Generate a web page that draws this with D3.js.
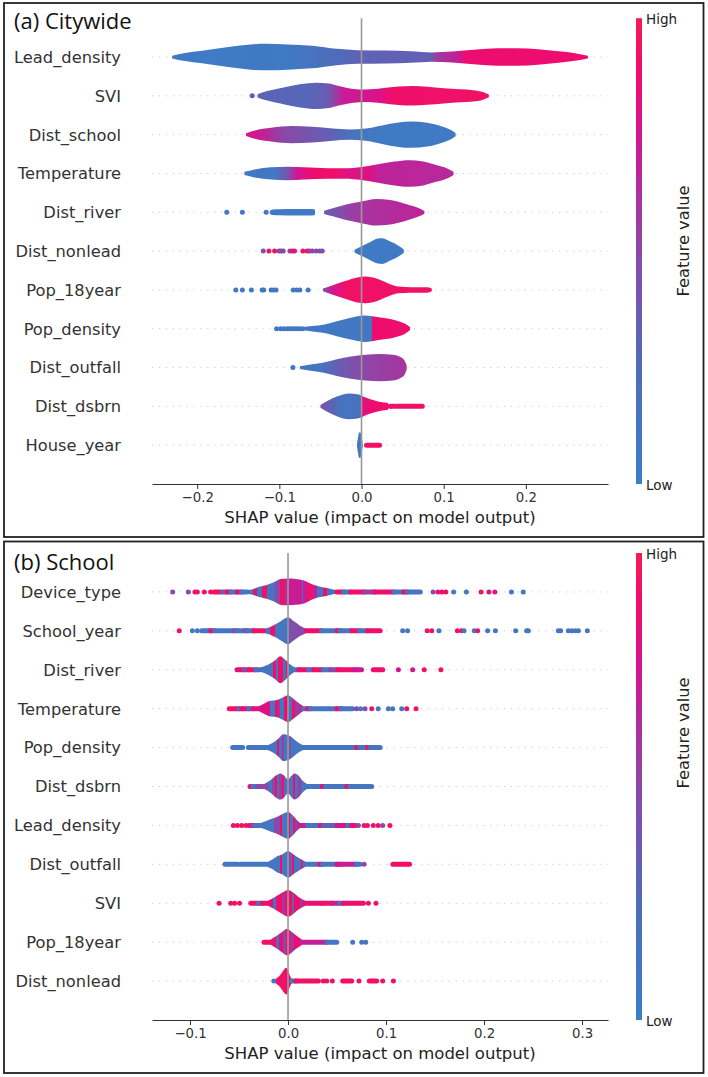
<!DOCTYPE html>
<html>
<head>
<meta charset="utf-8">
<script src="https://cdn.jsdelivr.net/npm/d3@7"></script>
<style>
  body { margin: 0; background: #fff; }
  svg text { font-family: "DejaVu Sans", sans-serif; }
</style>
</head>
<body>
<svg id="chart" width="708" height="1077"></svg>
<script>
// ---------- data ----------
// shap values on x, feature value 0 (low) .. 1 (high) for colour,
// violin density 0..1 relative to the widest violin of the panel

const cityFeatures = ["Lead_density", "SVI", "Dist_school", "Temperature", "Dist_river",
  "Dist_nonlead", "Pop_18year", "Pop_density", "Dist_outfall", "Dist_dsbrn", "House_year"];
const cityXLim = [-0.255, 0.3];
const cityTicks = [-0.2, -0.1, 0.0, 0.1, 0.2];

// violin outlines, one list of parts per feature: [shap, density]
const cityShape = [
  [[[-0.2305,0.1],[-0.215,0.3],[-0.19,0.5],[-0.16,0.75],[-0.135,0.93],[-0.115,0.98],[-0.09,0.93],[-0.06,0.83],[-0.03,0.6],[-0.005,0.5],[0.03,0.48],[0.06,0.42],[0.085,0.34],[0.11,0.4],[0.14,0.55],[0.165,0.64],[0.19,0.65],[0.215,0.57],[0.24,0.42],[0.26,0.28],[0.2755,0.1]]],
  [[[-0.1265,0.12],[-0.115,0.35],[-0.095,0.62],[-0.075,0.85],[-0.055,0.97],[-0.04,0.9],[-0.025,0.68],[-0.01,0.5],[0.005,0.46],[0.025,0.55],[0.045,0.68],[0.062,0.72],[0.08,0.66],[0.1,0.56],[0.12,0.48],[0.136,0.42],[0.148,0.28],[0.155,0.1]]],
  [[[-0.1405,0.1],[-0.13,0.3],[-0.11,0.5],[-0.085,0.63],[-0.06,0.58],[-0.035,0.45],[-0.015,0.38],[0.005,0.45],[0.025,0.68],[0.045,0.9],[0.06,0.97],[0.08,0.88],[0.098,0.6],[0.11,0.3],[0.1145,0.12]]],
  [[[-0.1425,0.12],[-0.13,0.3],[-0.11,0.45],[-0.09,0.5],[-0.07,0.45],[-0.04,0.38],[-0.02,0.38],[0.0,0.48],[0.02,0.68],[0.04,0.88],[0.058,0.98],[0.075,0.88],[0.092,0.6],[0.105,0.35],[0.112,0.12]]],
  [[[-0.1115,0.12],[-0.108,0.2],[-0.1,0.22],[-0.08,0.24],[-0.065,0.24],[-0.0575,0.22],[-0.0565,0.12]],
   [[-0.0455,0.12],[-0.035,0.3],[-0.02,0.55],[0.0,0.8],[0.018,0.98],[0.035,0.9],[0.055,0.6],[0.07,0.3],[0.0765,0.1]]],
  [[[-0.0085,0.1],[0.0,0.35],[0.01,0.65],[0.02,0.92],[0.025,0.95],[0.035,0.7],[0.045,0.4],[0.0515,0.12]]],
  [[[-0.047,0.1],[-0.035,0.35],[-0.02,0.65],[-0.005,0.92],[0.005,0.98],[0.02,0.8],[0.035,0.42],[0.045,0.25],[0.06,0.2],[0.08,0.2],[0.0855,0.1]]],
  [[[-0.072,0.12],[-0.06,0.2],[-0.045,0.32],[-0.03,0.55],[-0.013,0.8],[0.003,0.97],[0.013,0.92],[0.025,0.8],[0.035,0.72],[0.045,0.55],[0.052,0.4],[0.059,0.12]]],
  [[[-0.075,0.1],[-0.06,0.25],[-0.046,0.38],[-0.03,0.62],[-0.013,0.82],[0.005,0.95],[0.023,1.0],[0.038,0.95],[0.048,0.75],[0.053,0.45],[0.055,0.15]]],
  [[[-0.05,0.1],[-0.04,0.45],[-0.03,0.72],[-0.015,0.95],[-0.005,0.9],[0.005,0.65],[0.015,0.45],[0.025,0.3],[0.032,0.25],[0.033,0.1]]],
  [[[-0.0055,0.1],[-0.0045,0.5],[-0.003,0.92],[-0.0015,0.95],[0.0,0.6],[0.0015,0.1]]]
];

// colour along each violin: [shap, feature value]
const cityColor = [
  [[-0.23,0.05],[-0.09,0.08],[-0.03,0.25],[0.0,0.32],[0.085,0.33],[0.09,0.55],[0.12,0.72],[0.125,0.87],[0.28,0.88]],
  [[-0.127,0.32],[-0.07,0.28],[-0.045,0.35],[-0.035,0.48],[-0.022,0.72],[0.02,0.78],[0.035,0.9],[0.155,0.92]],
  [[-0.14,0.78],[-0.12,0.7],[-0.095,0.5],[-0.06,0.4],[-0.03,0.3],[-0.01,0.15],[0.02,0.08],[0.115,0.08]],
  [[-0.142,0.1],[-0.105,0.12],[-0.09,0.42],[-0.078,0.75],[-0.06,0.88],[-0.03,0.9],[-0.015,0.8],[0.01,0.8],[0.02,0.68],[0.112,0.65]],
  [[-0.112,0.08],[-0.057,0.08],[-0.045,0.35],[-0.02,0.5],[0.0,0.6],[0.077,0.68]],
  [[-0.01,0.07],[0.052,0.07]],
  [[-0.047,0.45],[-0.035,0.75],[-0.02,0.92],[0.086,0.92]],
  [[-0.072,0.08],[0.012,0.1],[0.0135,0.88],[0.06,0.9]],
  [[-0.075,0.1],[-0.05,0.12],[-0.03,0.35],[0.0,0.5],[0.055,0.6]],
  [[-0.05,0.45],[-0.035,0.3],[-0.025,0.15],[-0.002,0.18],[0.0,0.8],[0.015,0.88],[0.033,0.9]],
  [[-0.006,0.1],[0.002,0.1]]
];

// dense stretches of points: [from, to, feature value]
const cityRuns = [
  [], [], [], [], [], [], [], [], [],
  [[0.036,0.041,0.9],[0.044,0.074,0.92]],
  [[0.006,0.022,0.92]]
];

// single points: [shap, feature value]
const cityDots = [
  [],
  [[-0.133,0.45]],
  [],
  [],
  [[-0.164,0.08],[-0.145,0.08],[-0.116,0.1]],
  [[-0.1196,0.45],[-0.1127,0.95],[-0.1058,0.92],[-0.1005,0.5],[-0.098,0.45],[-0.0953,0.5],[-0.0872,0.5],[-0.0843,0.92],[-0.0815,0.8],[-0.0714,0.92],[-0.0661,0.92],[-0.0635,0.6],[-0.06,0.5],[-0.0551,0.45],[-0.0507,0.5],[-0.0478,0.45]],
  [[-0.153,0.1],[-0.145,0.1],[-0.134,0.1],[-0.121,0.1],[-0.119,0.1],[-0.11,0.1],[-0.107,0.1],[-0.104,0.1],[-0.083,0.1],[-0.079,0.1],[-0.075,0.1],[-0.065,0.1]],
  [[-0.1034,0.08],[-0.0985,0.08],[-0.0945,0.08],[-0.0904,0.08],[-0.0872,0.08],[-0.0843,0.08],[-0.0815,0.08],[-0.0783,0.08],[-0.0754,0.08],[-0.0722,0.08]],
  [[-0.0835,0.1]],
  [[0.035,0.9]],
  []
];

const schoolFeatures = ["Device_type", "School_year", "Dist_river", "Temperature", "Pop_density",
  "Dist_dsbrn", "Lead_density", "Dist_outfall", "SVI", "Pop_18year", "Dist_nonlead"];
const schoolXLim = [-0.1388, 0.3265];
const schoolTicks = [-0.1, 0.0, 0.1, 0.2, 0.3];

const schoolShape = [
  [[[-0.042,0.15],[-0.035,0.22],[-0.032,0.31],[-0.022,0.5],[-0.0133,0.74],[-0.008,0.94],[0.0,0.98],[0.008,0.95],[0.0156,0.86],[0.026,0.52],[0.033,0.38],[0.04,0.28],[0.046,0.18],[0.05,0.14]]],
  [[[-0.025,0.15],[-0.018,0.28],[-0.0133,0.46],[-0.007,0.72],[0.0,0.99],[0.005,0.75],[0.0122,0.38],[0.019,0.15]]],
  [[[-0.0286,0.15],[-0.02,0.38],[-0.013,0.7],[-0.008,0.99],[-0.003,0.75],[0.002,0.4],[0.0071,0.15]]],
  [[[-0.0303,0.15],[-0.025,0.35],[-0.018,0.58],[-0.012,0.62],[-0.006,0.8],[0.0,0.99],[0.006,0.7],[0.011,0.42],[0.0156,0.18]]],
  [[[-0.0218,0.15],[-0.015,0.38],[-0.01,0.65],[-0.0048,0.98],[0.002,0.85],[0.008,0.5],[0.012,0.3],[0.0156,0.18]]],
  [[[-0.0252,0.15],[-0.018,0.45],[-0.012,0.82],[-0.008,0.96],[-0.004,0.8],[0.0,0.5],[0.003,0.75],[0.007,0.96],[0.011,0.78],[0.015,0.42],[0.019,0.2]]],
  [[[-0.0286,0.15],[-0.023,0.3],[-0.018,0.45],[-0.012,0.6],[-0.006,0.82],[0.0,0.98],[0.005,0.72],[0.009,0.4],[0.0122,0.2]]],
  [[[-0.0218,0.15],[-0.016,0.35],[-0.0116,0.58],[-0.006,0.72],[0.0,0.98],[0.006,0.7],[0.012,0.42],[0.0173,0.2]]],
  [[[-0.0218,0.15],[-0.016,0.35],[-0.01,0.6],[-0.005,0.82],[0.0,0.98],[0.005,0.8],[0.01,0.5],[0.0173,0.2]]],
  [[[-0.0184,0.15],[-0.012,0.45],[-0.006,0.75],[-0.0014,0.96],[0.004,0.75],[0.009,0.45],[0.014,0.2]]],
  [[[-0.0133,0.12],[-0.008,0.45],[-0.004,0.85],[-0.002,0.98],[0.0,0.8],[0.002,0.4],[0.0037,0.15]]]
];

// stripes inside each violin: [stripe start, feature value]
const schoolColor = [
  [[-0.042,0.1],[-0.0354,0.9],[-0.032,0.12],[-0.0269,0.92],[-0.0218,0.15],[-0.0133,0.5],[-0.0082,0.92],[-0.0031,0.6],[-0.0014,0.72],[0.014,0.15],[0.0156,0.72],[0.019,0.92],[0.0242,0.7],[0.0293,0.15],[0.036,0.9],[0.0395,0.15]],
  [[-0.025,0.12],[-0.0184,0.9],[-0.0133,0.12],[0.0,0.45],[0.008,0.5]],
  [[-0.0286,0.12],[-0.015,0.9],[-0.012,0.12],[-0.0099,0.92],[-0.0048,0.15],[-0.002,0.92],[0.0,0.12]],
  [[-0.0303,0.82],[-0.018,0.12],[-0.0133,0.9],[-0.0099,0.6],[-0.0082,0.15],[-0.004,0.9],[0.0,0.15],[0.0037,0.9],[0.007,0.55],[0.0122,0.9]],
  [[-0.0218,0.12],[-0.011,0.9],[-0.009,0.15],[-0.0065,0.55],[-0.004,0.12],[0.0,0.4],[0.003,0.12]],
  [[-0.0252,0.55],[-0.02,0.12],[-0.016,0.5],[-0.013,0.9],[-0.011,0.15],[-0.009,0.55],[-0.006,0.9],[-0.004,0.15],[-0.001,0.5],[0.002,0.12],[0.005,0.9],[0.007,0.15],[0.01,0.55],[0.013,0.12]],
  [[-0.0286,0.12],[-0.014,0.5],[-0.0082,0.9],[-0.006,0.12],[0.0,0.9],[0.0018,0.12],[0.005,0.9],[0.007,0.55]],
  [[-0.0218,0.12],[-0.008,0.9],[-0.006,0.12],[0.0,0.5],[0.003,0.12],[0.0037,0.9],[0.006,0.15],[0.013,0.9],[0.015,0.12]],
  [[-0.0218,0.85],[-0.015,0.15],[-0.012,0.9],[-0.006,0.6],[-0.003,0.92],[0.004,0.3],[0.006,0.9],[0.012,0.6]],
  [[-0.0184,0.9],[-0.012,0.2],[-0.009,0.85],[-0.005,0.5],[-0.002,0.92],[0.002,0.6],[0.006,0.88]],
  [[-0.0133,0.92]]
];

const schoolRuns = [
  [[-0.0755,-0.069,0.95],[-0.067,-0.062,0.4],[-0.062,-0.058,0.9],[-0.058,-0.052,0.1],[-0.052,-0.047,0.85],[-0.047,-0.042,0.1],
   [0.05,0.057,0.9],[0.057,0.064,0.12],[0.064,0.078,0.9],[0.078,0.088,0.55],[0.088,0.108,0.88],[0.108,0.118,0.12],[0.118,0.122,0.9],[0.122,0.135,0.15]],
  [[-0.088,-0.079,0.1],[-0.079,-0.075,0.9],[-0.075,-0.055,0.1],[-0.055,-0.052,0.5],[-0.052,-0.044,0.1],[-0.044,-0.041,0.5],[-0.041,-0.035,0.1],[-0.035,-0.025,0.92],
   [0.019,0.034,0.9],[0.034,0.05,0.12],[0.05,0.053,0.9],[0.053,0.065,0.12],[0.065,0.073,0.9],[0.073,0.081,0.12],[0.081,0.094,0.9]],
  [[-0.052,-0.045,0.85],[-0.045,-0.04,0.5],[-0.04,-0.033,0.9],[-0.033,-0.0286,0.2],
   [0.0071,0.011,0.12],[0.011,0.021,0.9],[0.021,0.026,0.12],[0.026,0.036,0.9],[0.036,0.043,0.12],[0.043,0.051,0.5],[0.051,0.068,0.9],[0.068,0.075,0.75],[0.087,0.0966,0.9]],
  [[-0.06,-0.05,0.92],[-0.05,-0.047,0.3],[-0.047,-0.04,0.85],[-0.04,-0.036,0.2],[-0.036,-0.0303,0.8],
   [0.0156,0.02,0.12],[0.02,0.023,0.9],[0.023,0.05,0.12],[0.05,0.054,0.9],[0.054,0.066,0.12]],
  [[-0.0565,-0.0463,0.12],[-0.0405,-0.0218,0.12],[0.0156,0.07,0.12],[0.07,0.073,0.9],[0.073,0.081,0.12],[0.081,0.084,0.92],[0.084,0.094,0.12]],
  [[-0.0388,-0.036,0.9],[-0.036,-0.031,0.12],[-0.031,-0.0252,0.5],[0.019,0.035,0.12],[0.035,0.038,0.9],[0.038,0.06,0.12],[0.06,0.063,0.9],[0.063,0.0854,0.12]],
  [[-0.0395,-0.036,0.9],[-0.036,-0.033,0.5],[-0.033,-0.0286,0.12],
   [0.0122,0.02,0.7],[0.02,0.033,0.12],[0.033,0.036,0.9],[0.036,0.05,0.3],[0.05,0.061,0.75],[0.061,0.065,0.12],[0.065,0.069,0.9]],
  [[-0.0643,-0.0517,0.12],[-0.049,-0.0218,0.12],[0.0173,0.0325,0.12],[0.0325,0.035,0.9],[0.035,0.05,0.15],[0.05,0.053,0.9],[0.053,0.07,0.7],[0.07,0.0735,0.12],[0.107,0.124,0.92]],
  [[-0.038,-0.03,0.92],[-0.03,-0.026,0.2],[-0.026,-0.0218,0.9],[0.0173,0.035,0.85],[0.035,0.045,0.92],[0.045,0.053,0.7],[0.053,0.0565,0.12],[0.0565,0.0769,0.9]],
  [[-0.0245,-0.0184,0.92],[0.014,0.04,0.7],[0.04,0.0497,0.12]],
  [[0.0037,0.008,0.12],[0.008,0.031,0.92],[0.0558,0.065,0.92],[0.083,0.0905,0.92]]
];

const schoolDots = [
  [[-0.1177,0.5],[-0.1017,0.5],[-0.095,0.92],[-0.0925,0.92],[-0.0854,0.92],[-0.079,0.9],[0.148,0.5],[0.153,0.9],[0.157,0.9],[0.161,0.9],[0.169,0.1],[0.182,0.1],[0.197,0.95],[0.205,0.9],[0.211,0.8],[0.228,0.1],[0.24,0.1]],
  [[-0.111,0.92],[-0.0976,0.12],[-0.0925,0.12],[0.117,0.12],[0.122,0.12],[0.142,0.92],[0.1466,0.92],[0.154,0.12],[0.1728,0.92],[0.177,0.92],[0.1796,0.12],[0.19,0.12],[0.1935,0.92],[0.2037,0.12],[0.2116,0.12],[0.2323,0.12],[0.2435,0.12],[0.2452,0.12],[0.2758,0.12],[0.2782,0.12],[0.286,0.12],[0.2895,0.12],[0.293,0.12],[0.2963,0.12],[0.3054,0.12]],
  [[0.1126,0.78],[0.1272,0.78],[0.139,0.92],[0.156,0.92]],
  [[0.07,0.5],[0.074,0.12],[0.0786,0.5],[0.0854,0.92],[0.092,0.12],[0.1024,0.12],[0.1068,0.12],[0.116,0.12],[0.1211,0.92],[0.1306,0.92]],
  [],
  [],
  [[-0.0558,0.92],[-0.0517,0.92],[-0.0473,0.92],[-0.0429,0.92],[0.0718,0.45],[0.0776,0.92],[0.081,0.92],[0.087,0.92],[0.092,0.92],[0.0966,0.5],[0.104,0.92]],
  [[0.0776,0.5]],
  [[-0.0704,0.92],[-0.0585,0.92],[-0.0545,0.92],[-0.0495,0.92],[0.082,0.92],[0.0898,0.92]],
  [[0.066,0.12],[0.0752,0.12],[0.0793,0.12]],
  [[-0.0145,0.12],[0.036,0.92],[0.0395,0.92],[0.0452,0.92],[0.0724,0.92],[0.0966,0.92],[0.1075,0.92]]
];

// ---------- drawing ----------
const featureColor = d3.scaleLinear()
  .domain([0, 0.25, 0.5, 0.75, 0.88, 1])
  .range(["#3a7fc9", "#4e6cba", "#8b48a8", "#d21592", "#ee0c6e", "#f31c55"]);

const svg = d3.select("#chart");
const defs = svg.append("defs");
let gradId = 0;

// vertical gradient for the colour bars
const cbGrad = defs.append("linearGradient").attr("id", "cbar")
  .attr("x1", 0).attr("x2", 0).attr("y1", 1).attr("y2", 0);
d3.range(0, 1.0001, 0.05).forEach(t =>
  cbGrad.append("stop").attr("offset", t).attr("stop-color", featureColor(t)));

function drawPanel(p) {
  const g = svg.append("g");

  g.append("rect")
    .attr("x", 4).attr("y", p.frameY).attr("width", 699.5).attr("height", p.frameH)
    .attr("fill", "none").attr("stroke", "#222").attr("stroke-width", 1.8);

  g.append("text")
    .attr("x", 14).attr("y", p.titleY)
    .style("font-family", "'Open Sans', sans-serif").style("font-size", "22px")
    .attr("fill", "#111").text(p.title);

  const x = d3.scaleLinear().domain(p.xlim).range([152, 608]);
  const n = p.features.length;
  const y = d3.scaleLinear().domain([-1, n]).range([p.top, p.axisY]);
  const hw = d3.scaleLinear().domain([0, 1]).range([0, 0.35 * (y(1) - y(0))]);

  // dotted row guides
  g.selectAll("line.grid").data(p.features).join("line")
    .attr("class", "grid")
    .attr("x1", 152).attr("x2", 608)
    .attr("y1", (d, i) => y(i)).attr("y2", (d, i) => y(i))
    .attr("stroke", "#cccccc").attr("stroke-width", 1)
    .attr("stroke-dasharray", "1.3,5.6");

  g.selectAll("text.lab").data(p.features).join("text")
    .attr("class", "lab")
    .attr("x", 121).attr("y", (d, i) => y(i)).attr("dy", "0.36em")
    .attr("text-anchor", "end").style("font-size", "16.3px").attr("fill", "#333")
    .text(d => d);

  p.features.forEach((f, i) => {
    const yc = y(i);
    const parts = p.shape[i];
    const all = parts.flat();
    const sMin = d3.min(all, d => d[0]), sMax = d3.max(all, d => d[0]);
    const x0 = x(sMin), x1 = x(sMax);
    const id = "vg" + (gradId++);
    const grad = defs.append("linearGradient").attr("id", id)
      .attr("gradientUnits", "userSpaceOnUse")
      .attr("x1", x0).attr("x2", x1).attr("y1", 0).attr("y2", 0);
    const off = s => Math.max(0, Math.min(1, (x(s) - x0) / (x1 - x0)));
    const cols = p.color[i];
    if (p.striped) {
      cols.forEach((c, j) => {
        const end = j < cols.length - 1 ? cols[j + 1][0] : sMax;
        grad.append("stop").attr("offset", off(c[0])).attr("stop-color", featureColor(c[1]));
        grad.append("stop").attr("offset", off(end)).attr("stop-color", featureColor(c[1]));
      });
    } else {
      cols.forEach(c => grad.append("stop").attr("offset", off(c[0])).attr("stop-color", featureColor(c[1])));
    }

    const area = d3.area().curve(d3.curveMonotoneX)
      .x(d => x(d[0]))
      .y0(d => yc - hw(d[1]))
      .y1(d => yc + hw(d[1]));

    g.append("g").selectAll("path").data(parts).join("path")
      .attr("d", area).attr("fill", `url(#${id})`);

    g.append("g").selectAll("line").data(p.runs[i]).join("line")
      .attr("x1", d => x(d[0])).attr("x2", d => x(d[1]))
      .attr("y1", yc).attr("y2", yc)
      .attr("stroke", d => featureColor(d[2])).attr("stroke-width", 5)
      .attr("stroke-linecap", "round");

    g.append("g").selectAll("circle").data(p.dots[i]).join("circle")
      .attr("cx", d => x(d[0])).attr("cy", yc).attr("r", 2.5)
      .attr("fill", d => featureColor(d[1]));
  });

  // zero line
  g.append("line")
    .attr("x1", x(0)).attr("x2", x(0)).attr("y1", p.top).attr("y2", p.axisY)
    .attr("stroke", "#999999").attr("stroke-width", 1.6);

  const axis = d3.axisBottom(x).tickValues(p.ticks).tickFormat(d3.format(".1f"))
    .tickSize(5).tickSizeOuter(0).tickPadding(4);
  const ax = g.append("g").attr("transform", `translate(0,${p.axisY})`).call(axis)
    .attr("font-family", "DejaVu Sans").attr("font-size", 13.3);
  ax.select(".domain").attr("stroke", "#333").attr("stroke-width", 1.1);
  ax.selectAll(".tick line").attr("stroke", "#333");
  ax.selectAll(".tick text").attr("fill", "#333");

  g.append("text")
    .attr("x", 380).attr("y", p.axisY + 39).attr("text-anchor", "middle")
    .style("font-size", "16.5px").attr("fill", "#222")
    .text("SHAP value (impact on model output)");

  // colour bar
  g.append("rect")
    .attr("x", 636).attr("y", p.top).attr("width", 6).attr("height", p.axisY - p.top)
    .attr("fill", "url(#cbar)");
  g.append("text").attr("x", 646).attr("y", p.top + 1).attr("dy", "0.35em")
    .style("font-size", "13.5px").attr("fill", "#222").text("High");
  g.append("text").attr("x", 646).attr("y", p.axisY + 1).attr("dy", "0.35em")
    .style("font-size", "13.5px").attr("fill", "#222").text("Low");
  g.append("text")
    .attr("transform", `translate(683,${p.cbLabelY}) rotate(-90)`)
    .attr("text-anchor", "middle").attr("dy", "0.35em")
    .style("font-size", "16.3px").attr("fill", "#222").text("Feature value");
}

drawPanel({
  title: "(a) Citywide", titleY: 29, frameY: 3, frameH: 534,
  features: cityFeatures, shape: cityShape, color: cityColor, runs: cityRuns, dots: cityDots,
  xlim: cityXLim, ticks: cityTicks, top: 18.2, axisY: 484, cbLabelY: 241, striped: false
});

drawPanel({
  title: "(b) School", titleY: 570, frameY: 541.5, frameH: 531.5,
  features: schoolFeatures, shape: schoolShape, color: schoolColor, runs: schoolRuns, dots: schoolDots,
  xlim: schoolXLim, ticks: schoolTicks, top: 553, axisY: 1020, cbLabelY: 733, striped: true
});
</script>
</body>
</html>
